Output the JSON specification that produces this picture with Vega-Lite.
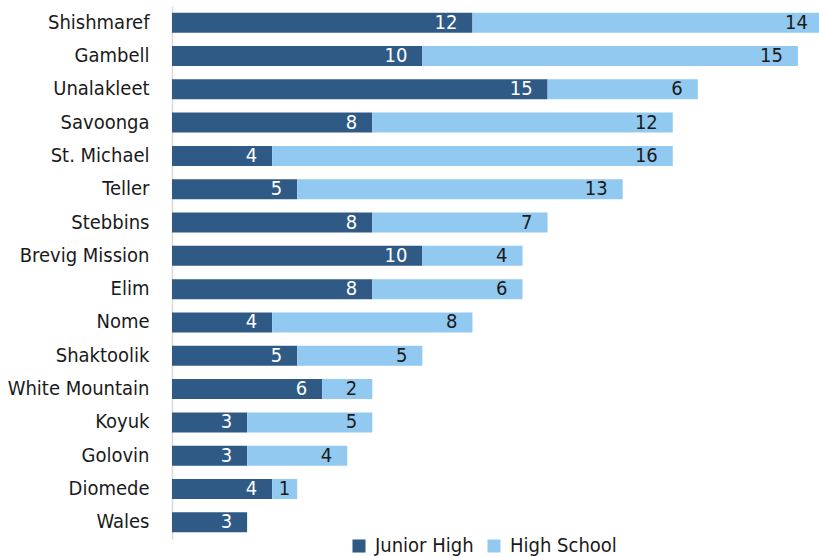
{
  "$schema": "https://vega.github.io/schema/vega-lite/v6.json",
  "width": 651,
  "height": 533,
  "autosize": {"type": "none"},
  "padding": {"left": 172, "top": 6, "right": 0, "bottom": 17},
  "background": "white",
  "config": {
    "view": {"stroke": null},
    "font": "DejaVu Sans Condensed, DejaVu Sans, sans-serif"
  },
  "data": {
    "values": [
      {"town": "Shishmaref", "level": "Junior High", "rank": 0, "n": 12},
      {"town": "Shishmaref", "level": "High School", "rank": 1, "n": 14},
      {"town": "Gambell", "level": "Junior High", "rank": 0, "n": 10},
      {"town": "Gambell", "level": "High School", "rank": 1, "n": 15},
      {"town": "Unalakleet", "level": "Junior High", "rank": 0, "n": 15},
      {"town": "Unalakleet", "level": "High School", "rank": 1, "n": 6},
      {"town": "Savoonga", "level": "Junior High", "rank": 0, "n": 8},
      {"town": "Savoonga", "level": "High School", "rank": 1, "n": 12},
      {"town": "St. Michael", "level": "Junior High", "rank": 0, "n": 4},
      {"town": "St. Michael", "level": "High School", "rank": 1, "n": 16},
      {"town": "Teller", "level": "Junior High", "rank": 0, "n": 5},
      {"town": "Teller", "level": "High School", "rank": 1, "n": 13},
      {"town": "Stebbins", "level": "Junior High", "rank": 0, "n": 8},
      {"town": "Stebbins", "level": "High School", "rank": 1, "n": 7},
      {"town": "Brevig Mission", "level": "Junior High", "rank": 0, "n": 10},
      {"town": "Brevig Mission", "level": "High School", "rank": 1, "n": 4},
      {"town": "Elim", "level": "Junior High", "rank": 0, "n": 8},
      {"town": "Elim", "level": "High School", "rank": 1, "n": 6},
      {"town": "Nome", "level": "Junior High", "rank": 0, "n": 4},
      {"town": "Nome", "level": "High School", "rank": 1, "n": 8},
      {"town": "Shaktoolik", "level": "Junior High", "rank": 0, "n": 5},
      {"town": "Shaktoolik", "level": "High School", "rank": 1, "n": 5},
      {"town": "White Mountain", "level": "Junior High", "rank": 0, "n": 6},
      {"town": "White Mountain", "level": "High School", "rank": 1, "n": 2},
      {"town": "Koyuk", "level": "Junior High", "rank": 0, "n": 3},
      {"town": "Koyuk", "level": "High School", "rank": 1, "n": 5},
      {"town": "Golovin", "level": "Junior High", "rank": 0, "n": 3},
      {"town": "Golovin", "level": "High School", "rank": 1, "n": 4},
      {"town": "Diomede", "level": "Junior High", "rank": 0, "n": 4},
      {"town": "Diomede", "level": "High School", "rank": 1, "n": 1},
      {"town": "Wales", "level": "Junior High", "rank": 0, "n": 3}
    ]
  },
  "encoding": {
    "y": {
      "field": "town",
      "type": "nominal",
      "sort": ["Shishmaref", "Gambell", "Unalakleet", "Savoonga", "St. Michael", "Teller", "Stebbins", "Brevig Mission", "Elim", "Nome", "Shaktoolik", "White Mountain", "Koyuk", "Golovin", "Diomede", "Wales"],
      "scale": {"paddingInner": 0.4, "paddingOuter": 0.2},
      "axis": {
        "title": null,
        "ticks": false,
        "domainColor": "#d9d9d9",
        "domainWidth": 1.5,
        "labelFontSize": 20,
        "labelColor": "#1a1a1a",
        "labelPadding": 23
      }
    },
    "x": {
      "field": "n",
      "type": "quantitative",
      "stack": "zero",
      "scale": {"domain": [0, 26], "nice": false},
      "axis": null
    },
    "order": {"field": "rank", "type": "quantitative"}
  },
  "layer": [
    {
      "mark": {"type": "bar"},
      "encoding": {
        "color": {
          "field": "level",
          "type": "nominal",
          "scale": {"domain": ["Junior High", "High School"], "range": ["#2E5A85", "#92C9F1"]},
          "legend": {
            "title": null,
            "orient": "none",
            "direction": "horizontal",
            "legendX": 177,
            "legendY": 530,
            "symbolType": "square",
            "symbolSize": 170,
            "symbolStrokeWidth": 0,
            "labelFontSize": 20,
            "labelColor": "#1a1a1a",
            "labelOffset": 6,
            "columnSpacing": 26
          }
        }
      }
    },
    {
      "mark": {"type": "text", "align": "right", "baseline": "middle", "dx": -15, "fontSize": 20},
      "encoding": {
        "text": {"field": "n", "type": "quantitative"},
        "opacity": {
          "condition": {"test": "datum.n < 2", "value": 0},
          "value": 1
        },
        "color": {
          "condition": {"test": "datum.level === 'Junior High'", "value": "white"},
          "value": "#1a1a1a"
        }
      }
    },
    {
      "mark": {"type": "text", "align": "right", "baseline": "middle", "dx": -7, "fontSize": 20},
      "encoding": {
        "text": {"field": "n", "type": "quantitative"},
        "opacity": {
          "condition": {"test": "datum.n < 2", "value": 1},
          "value": 0
        },
        "color": {"value": "#1a1a1a"}
      }
    }
  ]
}
